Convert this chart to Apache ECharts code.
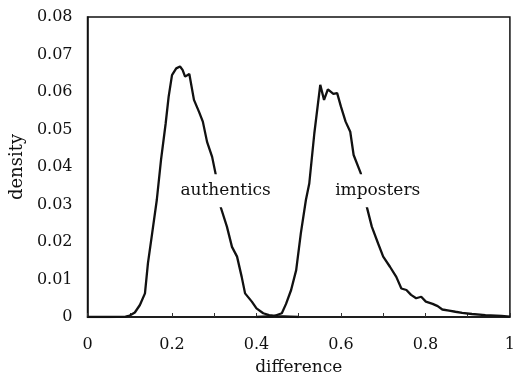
<!DOCTYPE html>
<html>
<head>
<meta charset="utf-8">
<script src="https://cdn.jsdelivr.net/npm/echarts@6/dist/echarts.min.js"></script>
<style>
  html, body { margin: 0; padding: 0; background: #fff; }
  #chart { width: 518px; height: 381px; }
</style>
</head>
<body>
<div id="chart"></div>
<script>
// difference values and density
const authX = [0, 0.05, 0.09, 0.10, 0.112, 0.124, 0.136, 0.143, 0.153, 0.164, 0.174, 0.185, 0.192, 0.200, 0.21, 0.219, 0.225, 0.231, 0.241, 0.252, 0.264, 0.273, 0.283, 0.295, 0.303, 0.315, 0.330, 0.342, 0.354, 0.365, 0.373, 0.389, 0.400, 0.416, 0.43, 0.45, 0.48, 0.50];
const authY = [0, 0, 0.0001, 0.0004, 0.0012, 0.0032, 0.0063, 0.0143, 0.0223, 0.0312, 0.0419, 0.0516, 0.0587, 0.0645, 0.0663, 0.0668, 0.0659, 0.0641, 0.0648, 0.0579, 0.0547, 0.0521, 0.0467, 0.0427, 0.0383, 0.0294, 0.0241, 0.0187, 0.0161, 0.0107, 0.0063, 0.0041, 0.0023, 0.001, 0.0005, 0.0002, 0.0001, 0];

const impX = [0.40, 0.44, 0.46, 0.47, 0.482, 0.494, 0.505, 0.517, 0.525, 0.537, 0.551, 0.560, 0.569, 0.582, 0.591, 0.600, 0.611, 0.622, 0.630, 0.647, 0.660, 0.673, 0.688, 0.700, 0.716, 0.731, 0.743, 0.755, 0.766, 0.778, 0.790, 0.801, 0.817, 0.829, 0.840, 0.856, 0.871, 0.887, 0.910, 0.942, 0.98, 1.0];
const impY = [0, 0.0002, 0.001, 0.0035, 0.0072, 0.0125, 0.0223, 0.0312, 0.0356, 0.049, 0.0619, 0.0579, 0.0607, 0.0595, 0.0597, 0.0561, 0.0521, 0.0494, 0.0432, 0.0383, 0.0299, 0.0241, 0.0196, 0.0161, 0.0134, 0.0107, 0.0076, 0.0072, 0.0059, 0.005, 0.0054, 0.0041, 0.0035, 0.0029, 0.002, 0.0017, 0.0014, 0.0011, 0.0008, 0.0005, 0.0003, 0.0001];

const xTicks = [0, 0.2, 0.4, 0.6, 0.8, 1];
const yTicks = [0, 0.01, 0.02, 0.03, 0.04, 0.05, 0.06, 0.07, 0.08];

// where the curve names sit, in data units
const authTagAt = [0.327, 0.0337];
const impTagAt = [0.687, 0.0337];

const serif = '"DejaVu Serif", "Liberation Serif", serif';

function pairs(xs, ys) {
  return xs.map((x, i) => [x, ys[i]]);
}

function tag(text, at) {
  return {
    symbol: 'circle',
    symbolSize: 1,
    silent: true,
    itemStyle: { color: 'rgba(0,0,0,0)' },
    data: [{
      coord: at,
      label: {
        show: true,
        formatter: text,
        position: 'inside',
        fontFamily: serif,
        fontSize: 17,
        color: '#111',
        backgroundColor: '#fff',
        padding: [8, 2]
      }
    }]
  };
}

const chart = echarts.init(document.getElementById('chart'));
chart.setOption({
  animation: false,
  backgroundColor: '#fff',
  grid: { left: 86, right: 4, top: 17, bottom: 64, show: true, borderColor: '#111', borderWidth: 1.5 },
  xAxis: {
    type: 'value',
    min: 0, max: 1, interval: 0.2,
    name: 'difference',
    nameLocation: 'middle',
    nameGap: 42,
    nameTextStyle: { fontFamily: serif, fontSize: 17, color: '#111' },
    axisLine: { lineStyle: { color: '#111', width: 1.5 } },
    axisTick: { show: true, inside: true, length: 4, lineStyle: { color: '#333' } },
    minorTick: { show: true, splitNumber: 2, length: 4, lineStyle: { color: '#333' } },
    axisLabel: {
      fontFamily: serif, fontSize: 16, color: '#111', margin: 20,
      formatter: v => xTicks.includes(+v.toFixed(1)) ? String(+v.toFixed(1)) : ''
    },
    splitLine: { show: false }
  },
  yAxis: {
    type: 'value',
    min: 0, max: 0.08, interval: 0.01,
    name: 'density',
    nameLocation: 'middle',
    nameGap: 60,
    nameTextStyle: { fontFamily: serif, fontSize: 18, color: '#111' },
    axisLine: { show: true, lineStyle: { color: '#111', width: 1.5 } },
    axisTick: { show: false },
    axisLabel: {
      fontFamily: serif, fontSize: 16, color: '#111', margin: 15,
      formatter: v => yTicks.includes(+v.toFixed(2)) ? String(+v.toFixed(2)) : ''
    },
    splitLine: { show: false }
  },
  series: [
    {
      name: 'authentics',
      type: 'line',
      data: pairs(authX, authY),
      showSymbol: false,
      lineStyle: { color: '#111', width: 2.3 },
      markPoint: tag('authentics', authTagAt)
    },
    {
      name: 'imposters',
      type: 'line',
      data: pairs(impX, impY),
      showSymbol: false,
      lineStyle: { color: '#111', width: 2.3 },
      markPoint: tag('imposters', impTagAt)
    }
  ]
});
</script>
</body>
</html>
